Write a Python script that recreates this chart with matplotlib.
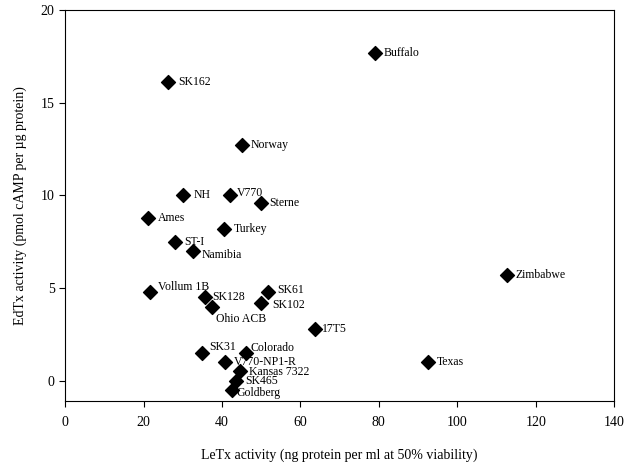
import matplotlib
matplotlib.use("Agg")
import matplotlib.pyplot as plt

plt.rcParams['font.family'] = ['Liberation Serif', 'DejaVu Serif']

# strain data
strains = ["Buffalo", "SK162", "Norway", "NH", "V770", "Sterne", "Ames", "Turkey",
           "ST-I", "Namibia", "Zimbabwe", "Vollum 1B", "SK61", "SK128", "SK102",
           "Ohio ACB", "17T5", "SK31", "Colorado", "V770-NP1-R", "Texas",
           "Kansas 7322", "SK465", "Goldberg"]
letx = [79.1, 26.3, 45.2, 30.1, 42.1, 50.0, 21.2, 40.6,
        28.1, 32.7, 112.8, 21.7, 51.8, 35.7, 50.0,
        37.5, 63.8, 35.0, 46.2, 40.8, 92.6,
        44.6, 43.6, 42.6]
edtx = [17.7, 16.1, 12.7, 10.0, 10.0, 9.6, 8.8, 8.2,
        7.5, 7.0, 5.7, 4.8, 4.8, 4.5, 4.2,
        4.0, 2.8, 1.5, 1.5, 1.0, 1.0,
        0.5, 0.0, -0.5]

# label offsets in pixels (dx, dy)
offsets = {"Buffalo": (8, 0), "SK162": (10, 0), "Norway": (8, 0), "NH": (10, 0),
           "V770": (7, 2), "Sterne": (8, 0), "Ames": (10, 0), "Turkey": (9, 0),
           "ST-I": (9, 0), "Namibia": (8, -4), "Zimbabwe": (8, 0),
           "Vollum 1B": (8, 5), "SK61": (9, 2), "SK128": (7, 0), "SK102": (11, -2),
           "Ohio ACB": (4, -12), "17T5": (7, 0), "SK31": (7, 6), "Colorado": (4, 5),
           "V770-NP1-R": (9, 0), "Texas": (9, 0), "Kansas 7322": (9, -1),
           "SK465": (9, 0), "Goldberg": (4, -3)}

fig = plt.figure(figsize=(6.26, 4.63), dpi=100)
ax = fig.add_axes([0.104, 0.134, 0.877, 0.844])

ax.scatter(letx, edtx, marker='D', s=50, color='black', zorder=3)
for name, x, y in zip(strains, letx, edtx):
    dx, dy = offsets[name]
    ax.annotate(name, (x, y), xytext=(dx, dy), textcoords='offset pixels',
                ha='left', va='center', fontsize=8.5)

ax.set_xlim(0, 140)
ax.set_ylim(-1.1, 20)
ax.set_xticks(range(0, 141, 20))
ax.set_yticks([0, 5, 10, 15, 20])
ax.tick_params(direction='out', length=4, labelsize=10, width=0.8)
ax.tick_params(axis='x', pad=7)
ax.set_xlabel("LeTx activity (ng protein per ml at 50% viability)", fontsize=10, labelpad=14)
ax.set_ylabel("EdTx activity (pmol cAMP per \u00b5g protein)", fontsize=10, labelpad=10)
for s in ax.spines.values():
    s.set_linewidth(0.8)

fig.savefig("out.png", dpi=100)
